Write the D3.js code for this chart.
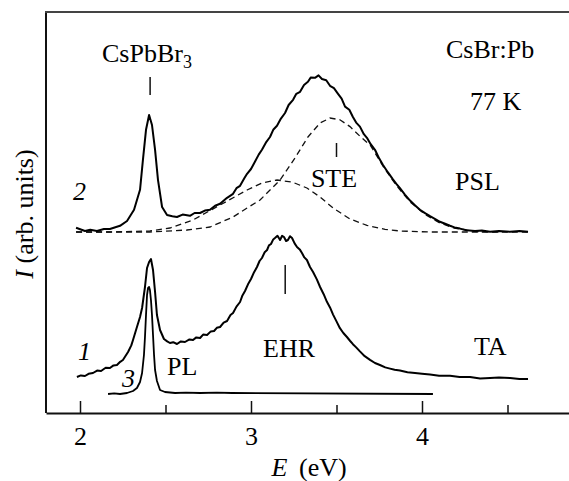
<!DOCTYPE html>
<html>
<head>
<meta charset="utf-8">
<script src="https://cdn.jsdelivr.net/npm/d3@7"></script>
<style>
  body { margin: 0; background: #fff; }
  svg text { font-family: "Liberation Serif", "DejaVu Serif", serif; fill: #000; }
</style>
</head>
<body>
<div id="chart"></div>
<script>
// spectra: [E (eV), I (arb. units)]
var pslCurve = [
  [1.977, 46.3], [2.029, 45.5], [2.060, 45.8], [2.099, 45.5], [2.140, 46.0], [2.175, 46.0],
  [2.234, 46.8], [2.275, 48.0], [2.316, 50.8], [2.351, 55.8], [2.368, 63.3], [2.386, 70.8],
  [2.404, 74.5], [2.421, 72.0], [2.439, 65.8], [2.456, 58.3], [2.480, 51.5], [2.509, 49.5],
  [2.540, 49.2], [2.567, 49.0], [2.600, 49.6], [2.643, 49.3], [2.670, 50.0], [2.702, 50.0],
  [2.730, 50.6], [2.760, 50.8], [2.790, 51.8], [2.819, 52.3], [2.860, 53.8], [2.895, 54.8],
  [2.915, 56.2], [2.936, 56.8], [2.960, 58.6], [2.977, 59.8], [3.000, 61.0], [3.023, 62.8],
  [3.045, 64.6], [3.064, 65.8], [3.090, 67.8], [3.111, 69.0], [3.130, 70.8], [3.152, 71.8],
  [3.175, 73.6], [3.199, 75.0], [3.220, 77.0], [3.246, 78.3], [3.265, 79.8], [3.287, 80.3],
  [3.310, 82.0], [3.333, 82.8], [3.350, 83.9], [3.374, 83.8], [3.395, 84.4], [3.415, 83.5],
  [3.440, 83.2], [3.462, 81.8], [3.485, 81.2], [3.509, 79.8], [3.530, 78.6], [3.550, 76.6],
  [3.575, 75.8], [3.596, 74.0], [3.615, 72.6], [3.637, 71.6], [3.660, 69.7], [3.678, 68.8],
  [3.700, 67.2], [3.725, 65.8], [3.750, 63.6], [3.772, 62.0], [3.800, 60.2], [3.830, 58.4],
  [3.850, 57.3], [3.871, 56.2], [3.900, 54.6], [3.930, 53.1], [3.960, 51.9], [3.988, 50.8],
  [4.020, 49.9], [4.047, 49.2], [4.080, 48.4], [4.105, 47.8], [4.135, 47.3], [4.164, 46.8],
  [4.190, 46.4], [4.222, 46.1], [4.260, 45.7], [4.310, 45.5], [4.350, 45.6], [4.398, 45.3],
  [4.450, 45.5], [4.515, 45.3], [4.570, 45.5], [4.620, 45.3]
];

var ehrComponent = [
  [1.977, 45.25], [2.175, 45.25], [2.409, 45.5], [2.526, 46.25], [2.661, 48.25], [2.819, 52.0],
  [2.977, 55.75], [3.064, 57.5], [3.152, 58.25], [3.240, 57.75], [3.327, 56.25], [3.404, 54.0],
  [3.480, 51.25], [3.579, 48.5], [3.678, 46.9], [3.784, 45.9], [3.871, 45.5], [4.047, 45.25],
  [4.620, 45.25]
];

var steComponent = [
  [1.977, 45.25], [2.409, 45.25], [2.626, 45.75], [2.760, 46.5], [2.895, 49.0], [2.977, 51.25],
  [3.053, 53.25], [3.170, 58.25], [3.257, 63.75], [3.333, 69.0], [3.404, 72.5], [3.462, 73.75],
  [3.520, 73.3], [3.579, 71.6], [3.637, 69.2], [3.700, 66.8], [3.772, 61.7], [3.850, 56.9],
  [3.930, 52.8], [4.020, 49.6], [4.105, 47.5], [4.190, 46.2], [4.310, 45.4], [4.456, 45.25]
];

var taCurve = [
  [1.982, 9.0], [2.005, 9.4], [2.029, 9.25], [2.050, 9.8], [2.076, 10.0], [2.100, 10.6],
  [2.123, 10.5], [2.150, 11.3], [2.175, 11.25], [2.196, 11.9], [2.216, 12.0], [2.235, 12.8],
  [2.251, 13.25], [2.281, 15.25], [2.300, 16.9], [2.310, 18.25], [2.333, 21.5], [2.351, 24.0],
  [2.363, 26.25], [2.380, 31.5], [2.392, 36.25], [2.404, 37.75], [2.415, 38.5], [2.427, 35.75],
  [2.439, 30.25], [2.450, 24.5], [2.468, 20.75], [2.491, 18.5], [2.510, 17.9], [2.526, 17.5],
  [2.545, 17.7], [2.567, 17.25], [2.590, 17.9], [2.614, 17.75], [2.640, 18.4], [2.661, 18.25],
  [2.680, 18.9], [2.702, 18.75], [2.720, 19.6], [2.743, 19.5], [2.765, 20.4], [2.784, 20.5],
  [2.800, 21.3], [2.819, 21.5], [2.840, 22.6], [2.860, 23.0], [2.880, 24.5], [2.895, 25.0],
  [2.915, 26.6], [2.936, 27.75], [2.950, 29.4], [2.965, 30.5], [2.985, 32.4], [3.000, 33.5],
  [3.018, 35.2], [3.035, 36.5], [3.050, 38.0], [3.064, 38.75], [3.080, 40.2], [3.094, 40.75],
  [3.105, 41.9], [3.117, 42.25], [3.130, 43.4], [3.140, 43.75], [3.155, 44.3], [3.170, 43.25],
  [3.182, 44.3], [3.193, 44.0], [3.205, 43.0], [3.216, 43.25], [3.228, 44.2], [3.240, 43.75],
  [3.255, 42.4], [3.269, 41.5], [3.285, 40.9], [3.298, 40.0], [3.312, 38.9], [3.327, 38.25],
  [3.345, 36.5], [3.363, 35.25], [3.385, 33.4], [3.404, 31.5], [3.425, 29.7], [3.444, 27.8],
  [3.462, 26.4], [3.480, 24.6], [3.500, 22.9], [3.520, 21.2], [3.540, 20.0], [3.561, 19.0],
  [3.580, 18.0], [3.596, 17.2], [3.615, 16.4], [3.637, 15.4], [3.665, 14.2], [3.696, 13.3],
  [3.725, 12.5], [3.754, 12.0], [3.785, 11.4], [3.813, 11.1], [3.840, 10.8], [3.871, 10.6],
  [3.915, 10.2], [3.959, 10.0], [4.000, 9.8], [4.047, 9.6], [4.100, 9.3], [4.164, 9.3],
  [4.220, 9.0], [4.281, 9.0], [4.340, 8.6], [4.398, 8.75], [4.450, 8.9], [4.515, 8.75],
  [4.570, 8.5], [4.620, 8.5]
];

var plCurve = [
  [2.164, 4.75], [2.200, 4.9], [2.234, 4.75], [2.275, 5.0], [2.310, 5.5], [2.333, 6.25],
  [2.351, 7.75], [2.363, 10.0], [2.374, 14.5], [2.380, 19.0], [2.386, 24.5], [2.392, 29.5],
  [2.398, 31.25], [2.404, 31.5], [2.409, 30.75], [2.415, 28.25], [2.421, 24.5], [2.427, 19.5],
  [2.433, 14.5], [2.439, 10.75], [2.450, 8.0], [2.468, 5.75], [2.497, 5.25], [2.556, 5.0],
  [2.620, 5.1], [2.702, 5.0], [2.800, 5.1], [2.889, 5.0], [4.064, 4.75]
];

var xTicksMajor = [2, 3, 4];
var xTicksMinor = [2.5, 3.5, 4.5];

// annotation marks: [E, I from, I to]
var markers = [[2.41, 79.5, 84], [3.5, 64, 67.5], [3.2, 29.75, 37]];

var width = 569, height = 481;
var margin = { left: 46, top: 12, bottom: 413 };

var svg = d3.select("#chart").append("svg")
  .attr("width", width)
  .attr("height", height);

var x = d3.scaleLinear().domain([2, 4.5]).range([80, 507.5]);
var y = d3.scaleLinear().domain([0, 100]).range([margin.bottom, margin.bottom - 400]);

var line = d3.line()
  .x(d => x(d[0]))
  .y(d => y(d[1]));

// frame: left and top lines
svg.append("line")
  .attr("x1", margin.left).attr("x2", margin.left)
  .attr("y1", margin.top).attr("y2", margin.bottom)
  .attr("stroke", "#111").attr("stroke-width", 2);
svg.append("line")
  .attr("x1", margin.left - 1).attr("x2", width)
  .attr("y1", margin.top).attr("y2", margin.top)
  .attr("stroke", "#444").attr("stroke-width", 2);

var axisScale = x.copy().domain([x.invert(margin.left), x.invert(width)]).range([margin.left, width]);

var majorAxis = svg.append("g")
  .attr("transform", `translate(0, ${margin.bottom})`)
  .call(d3.axisBottom(axisScale).tickValues(xTicksMajor).tickSizeInner(-12).tickSizeOuter(0).tickPadding(14).tickFormat(d3.format("d")));
majorAxis.select(".domain").attr("stroke", "#111").attr("stroke-width", 2);
majorAxis.selectAll(".tick line").attr("stroke", "#111").attr("stroke-width", 1.5);
majorAxis.selectAll(".tick text")
  .attr("font-size", 26)
  .style("font-family", '"Liberation Serif", serif');

var minorAxis = svg.append("g")
  .attr("transform", `translate(0, ${margin.bottom})`)
  .call(d3.axisBottom(axisScale).tickValues(xTicksMinor).tickSizeInner(-8).tickSizeOuter(0).tickFormat(""));
minorAxis.select(".domain").remove();
minorAxis.selectAll(".tick line").attr("stroke", "#111").attr("stroke-width", 1.5);

// dashed components
[ehrComponent, steComponent].forEach(function(comp) {
  svg.append("path")
    .datum(comp)
    .attr("d", line)
    .attr("fill", "none")
    .attr("stroke", "#111")
    .attr("stroke-width", 1.3)
    .attr("stroke-dasharray", "6,4");
});

// solid spectra
[[pslCurve, 2], [taCurve, 2], [plCurve, 1.8]].forEach(function(c) {
  svg.append("path")
    .datum(c[0])
    .attr("d", line)
    .attr("fill", "none")
    .attr("stroke", "#000")
    .attr("stroke-width", c[1])
    .attr("stroke-linejoin", "round");
});

svg.selectAll(".marker")
  .data(markers)
  .enter().append("line")
  .attr("class", "marker")
  .attr("x1", d => x(d[0])).attr("x2", d => x(d[0]))
  .attr("y1", d => y(d[1])).attr("y2", d => y(d[2]))
  .attr("stroke", "#111").attr("stroke-width", 1.5);

// labels
function label(txt, px, py, opts) {
  opts = opts || {};
  return svg.append("text")
    .attr("x", px).attr("y", py)
    .attr("font-size", opts.size || 26)
    .attr("font-style", opts.italic ? "italic" : null)
    .attr("text-anchor", opts.anchor || "start")
    .text(txt);
}

var cs = label("CsPbBr", 102, 62);
cs.append("tspan").attr("font-size", 18).attr("dy", 6).text("3");
label("CsBr:Pb", 446, 58);
label("77 K", 470, 110);
label("STE", 334, 187, { anchor: "middle" });
label("PSL", 455, 190);
label("2", 73, 200, { italic: true });
label("1", 78, 360, { italic: true });
label("3", 122, 387, { italic: true });
label("PL", 167, 375);
label("EHR", 263, 357);
label("TA", 474, 355);

var xl = svg.append("text")
  .attr("x", 309).attr("y", 476)
  .attr("font-size", 26)
  .attr("text-anchor", "middle");
xl.append("tspan").attr("font-style", "italic").text("E");
xl.append("tspan").text("\u2009 (eV)");

var yl = svg.append("text")
  .attr("transform", "translate(33, 214) rotate(-90)")
  .attr("font-size", 26)
  .attr("text-anchor", "middle");
yl.append("tspan").attr("font-style", "italic").text("I");
yl.append("tspan").text(" (arb. units)");
</script>
</body>
</html>
